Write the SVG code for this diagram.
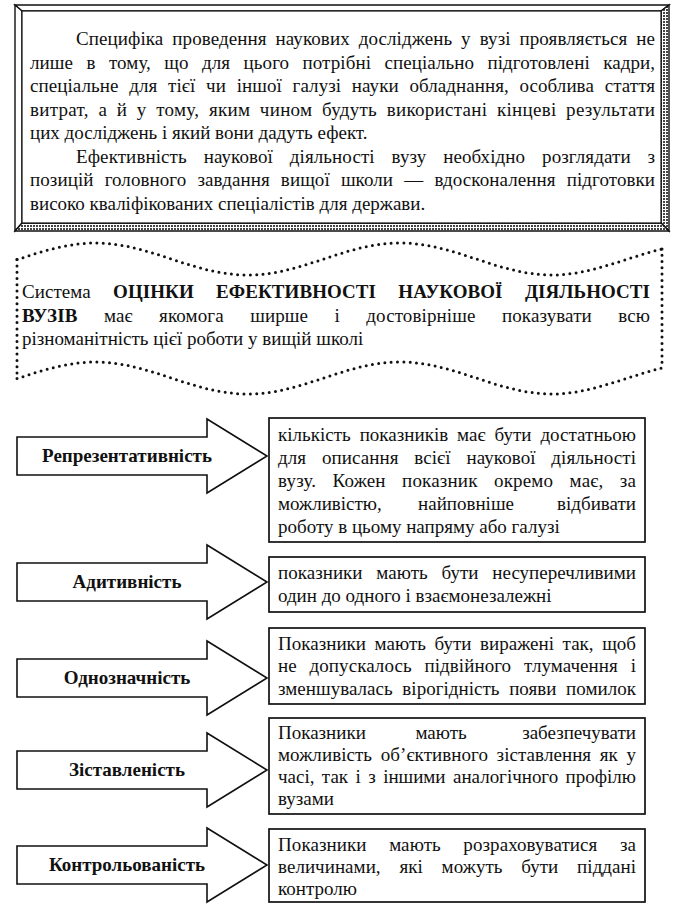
<svg xmlns="http://www.w3.org/2000/svg" width="679" height="920" viewBox="0 0 679 920">
<defs>
<pattern id="hatch" width="3" height="3" patternUnits="userSpaceOnUse">
<rect width="3" height="3" fill="#fff"/>
<rect width="2" height="2" fill="#444"/>
</pattern>
<style>
.t{font-family:"Liberation Serif","Times New Roman",serif;font-size:19px;fill:#111}
.b{font-weight:bold}
.lbl{font-family:"Liberation Serif","Times New Roman",serif;font-size:19px;font-weight:bold;fill:#111;text-anchor:middle}
.box{fill:#fff;stroke:#111;stroke-width:1.7}
.arrow{fill:#fff;stroke:#111;stroke-width:1.6;stroke-linejoin:miter}
.dots{fill:none;stroke:#111;stroke-width:3;stroke-linecap:round;stroke-dasharray:0 6.3}
.frame{stroke:#111;stroke-width:1.4;stroke-linejoin:miter}
</style>
</defs>
<rect width="679" height="920" fill="#fff"/>

<g id="intro">
<polygon class="frame" fill="#fff" points="15,5 669,5 661,11 22,11"/>
<polygon class="frame" fill="#fff" points="15,5 22,11 22,223 15,231"/>
<polygon class="frame" fill="url(#hatch)" points="669,5 669,231 661,223 661,11"/>
<polygon class="frame" fill="url(#hatch)" points="15,231 669,231 661,223 22,223"/>
<rect x="22" y="11" width="639" height="212" fill="#fff" stroke="#111" stroke-width="1.2"/>
<text class="t" x="76" y="45" word-spacing="4.1" textLength="579" lengthAdjust="spacing">Специфіка проведення наукових досліджень у вузі проявляється не</text>
<text class="t" x="30" y="68.5" word-spacing="8.6" textLength="625" lengthAdjust="spacing">лише в тому, що для цього потрібні спеціально підготовлені кадри,</text>
<text class="t" x="30" y="92" word-spacing="6" textLength="625" lengthAdjust="spacing">спеціальне для тієї чи іншої галузі науки обладнання, особлива стаття</text>
<text class="t" x="30" y="115.5" word-spacing="4.6" textLength="625" lengthAdjust="spacing">витрат, а й у тому, яким чином будуть використані кінцеві результати</text>
<text class="t" x="30" y="139">цих досліджень і який вони дадуть ефект.</text>
<text class="t" x="76" y="162.5" word-spacing="12" textLength="579" lengthAdjust="spacing">Ефективність наукової діяльності вузу необхідно розглядати з</text>
<text class="t" x="30" y="186" word-spacing="6.3" textLength="625" lengthAdjust="spacing">позицій головного завдання вищої школи — вдосконалення підготовки</text>
<text class="t" x="30" y="209.5">високо кваліфікованих спеціалістів для держави.</text>
</g>

<g id="system">
<path class="dots" d="M17,259.6 C43,251 69,243 95,243 C150.5,243 192,275 247.5,275 C303,275 344.5,243 400,243 C455.5,243 497,275 552.5,275 C589,275 625.5,258.2 662,248.9"/>
<path class="dots" d="M17,378.6 C43,370 69,362 95,362 C150.5,362 192,394 247.5,394 C303,394 344.5,362 400,362 C455.5,362 497,394 552.5,394 C589,394 625.5,377.2 662,367.9"/>
<path class="dots" d="M17,259.6 L17,378.6"/>
<path class="dots" d="M662,248.9 L662,367.9"/>
<text class="t" x="22" y="298" word-spacing="17.5" textLength="628" lengthAdjust="spacing">Система <tspan class="b">ОЦІНКИ ЕФЕКТИВНОСТІ НАУКОВОЇ ДІЯЛЬНОСТІ</tspan></text>
<text class="t" x="22" y="322" word-spacing="21.5" textLength="628" lengthAdjust="spacing"><tspan class="b">ВУЗІВ</tspan> має якомога ширше і достовірніше показувати всю</text>
<text class="t" x="22" y="345">різноманітність цієї роботи у вищій школі</text>
</g>

<g id="connectors">
<polygon class="arrow" points="17,437 207,437 207,419 267,456 207,493 207,475 17,475"/>
<polygon class="arrow" points="17,563 207,563 207,545 267,582 207,619 207,601 17,601"/>
<polygon class="arrow" points="17,659 207,659 207,641 267,678 207,715 207,697 17,697"/>
<polygon class="arrow" points="17,751 207,751 207,733 267,770 207,807 207,789 17,789"/>
<polygon class="arrow" points="17,846 207,846 207,828 267,865 207,902 207,884 17,884"/>
</g>

<g id="n1">
<text class="lbl" x="127" y="461.5">Репрезентативність</text>
<rect class="box" x="269" y="418" width="376" height="124"/>
<text class="t" x="278" y="441" word-spacing="4.1" textLength="358" lengthAdjust="spacing">кількість показників має бути достатньою</text>
<text class="t" x="278" y="464" word-spacing="11" textLength="358" lengthAdjust="spacing">для описання всієї наукової діяльності</text>
<text class="t" x="278" y="487" word-spacing="11.4" textLength="358" lengthAdjust="spacing">вузу. Кожен показник окремо має, за</text>
<text class="t" y="510"><tspan x="278">можливістю,</tspan><tspan x="466" text-anchor="middle">найповніше</tspan><tspan x="636" text-anchor="end">відбивати</tspan></text>
<text class="t" x="278" y="533">роботу в цьому напряму або галузі</text>
</g>

<g id="n2">
<text class="lbl" x="127" y="587.5">Адитивність</text>
<rect class="box" x="269" y="557" width="376" height="55"/>
<text class="t" x="278" y="579" word-spacing="9" textLength="358" lengthAdjust="spacing">показники мають бути несуперечливими</text>
<text class="t" x="278" y="602">один до одного і взаємонезалежні</text>
</g>

<g id="n3">
<text class="lbl" x="127" y="683.5">Однозначність</text>
<rect class="box" x="269" y="628" width="376" height="76"/>
<text class="t" x="278" y="650" word-spacing="3.8" textLength="358" lengthAdjust="spacing">Показники мають бути виражені так, щоб</text>
<text class="t" x="278" y="672" word-spacing="8" textLength="358" lengthAdjust="spacing">не допускалось підвійного тлумачення і</text>
<text class="t" x="278" y="695" word-spacing="4.8" textLength="358" lengthAdjust="spacing">зменшувалась вірогідність появи помилок</text>
</g>

<g id="n4">
<text class="lbl" x="127" y="775.5">Зіставленість</text>
<rect class="box" x="269" y="718" width="376" height="96"/>
<text class="t" y="739"><tspan x="278">Показники</tspan><tspan x="441" text-anchor="middle">мають</tspan><tspan x="636" text-anchor="end">забезпечувати</tspan></text>
<text class="t" x="278" y="761" word-spacing="3.8" textLength="358" lengthAdjust="spacing">можливість об’єктивного зіставлення як у</text>
<text class="t" x="278" y="783" word-spacing="2.7" textLength="358" lengthAdjust="spacing">часі, так і з іншими аналогічного профілю</text>
<text class="t" x="278" y="805">вузами</text>
</g>

<g id="n5">
<text class="lbl" x="127" y="870.5">Контрольованість</text>
<rect class="box" x="269" y="829" width="376" height="73"/>
<text class="t" x="278" y="851" word-spacing="17.7" textLength="358" lengthAdjust="spacing">Показники мають розраховуватися за</text>
<text class="t" x="278" y="873" word-spacing="14" textLength="358" lengthAdjust="spacing">величинами, які можуть бути піддані</text>
<text class="t" x="278" y="895">контролю</text>
</g>
</svg>
